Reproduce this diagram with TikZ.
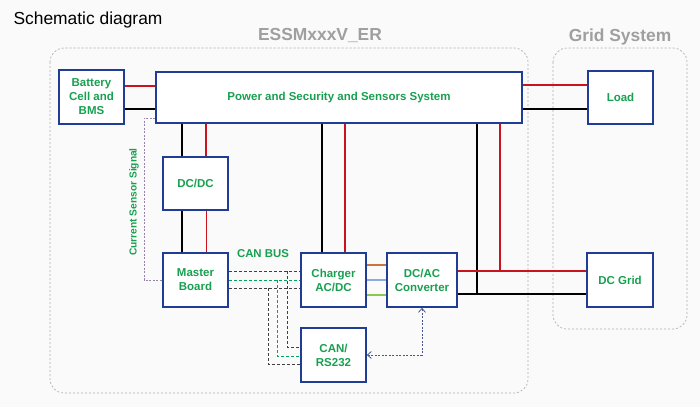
\documentclass[tikz,border=0pt]{standalone}
\usepackage{fontspec}
\setmainfont{Liberation Sans}
\usetikzlibrary{arrows.meta}

\definecolor{boxblue}{RGB}{31,60,150}
\definecolor{txtgreen}{RGB}{24,160,80}
\definecolor{pwrred}{RGB}{200,20,30}
\definecolor{linkor}{RGB}{205,115,60}
\definecolor{linkbl}{RGB}{140,170,220}
\definecolor{linkgr}{RGB}{140,200,80}
\definecolor{framegray}{RGB}{175,175,180}
\definecolor{sigpurple}{RGB}{150,130,170}

\tikzset{
  unit/.style={draw=boxblue, line width=1.6pt, fill=white, text=txtgreen,
    font=\fontsize{11.5}{14}\selectfont\bfseries, align=center, inner sep=0pt},
  redline/.style={draw=pwrred, line width=1.6pt},
  blackline/.style={draw=black, line width=1.6pt},
  bus/.style={draw=black!75, dash pattern=on 3pt off 2pt, line width=0.8pt},
  busgreen/.style={draw=teal!70!green, dash pattern=on 3pt off 2pt, line width=0.8pt},
  frame/.style={draw=framegray, dash pattern=on 2pt off 2pt, line width=0.7pt, rounded corners=14pt},
  heading/.style={text=gray!75, font=\fontsize{17.4}{20}\selectfont\bfseries}
}

\begin{document}
\begin{tikzpicture}[x=1pt, y=-1pt]
  \fill[gray!4] (0,0) rectangle (700,407);
  \useasboundingbox (0,0) rectangle (700,407);

  % frames and titles
  \draw[frame] (50,48) rectangle (528,393);
  \draw[frame] (553,48) rectangle (687,329);
  \node[anchor=west, font=\fontsize{17.4}{20}\selectfont] (title) at (10,20) {Schematic diagram};
  \node[heading] (essm) at (320,35) {ESSMxxxV\_ER};
  \node[heading] (gridsys) at (620,37) {Grid System};

  % units
  \node[unit, minimum width=65pt, minimum height=54pt] (bat) at (91.5,97) {Battery\\Cell and\\BMS};
  \node[unit, minimum width=366pt, minimum height=51pt] (pss) at (339,97.5) {Power and Security and Sensors System};
  \node[unit, minimum width=65pt, minimum height=53pt] (load) at (620.5,97.5) {Load};
  \node[unit, minimum width=65pt, minimum height=53pt] (dcdc) at (195.5,183.5) {DC/DC};
  \node[unit, minimum width=65pt, minimum height=54pt] (mb) at (195.5,280) {Master\\Board};
  \node[unit, minimum width=65pt, minimum height=54pt] (chg) at (333.5,280) {Charger\\AC/DC};
  \node[unit, minimum width=70pt, minimum height=54pt] (dcac) at (422,280) {DC/AC\\Converter};
  \node[unit, minimum width=66pt, minimum height=54pt] (grid) at (620,280) {DC Grid};
  \node[unit, minimum width=65pt, minimum height=54pt] (can) at (333.5,355) {CAN/\\RS232};

  % power lines
  \draw[redline] (bat.east |- 0,86) -- (pss.west |- 0,86);
  \draw[blackline] (bat.east |- 0,109) -- (pss.west |- 0,109);
  \draw[redline] (pss.east |- 0,85) -- (load.west |- 0,85);
  \draw[blackline] (pss.east |- 0,109) -- (load.west |- 0,109);
  \draw[blackline] (182,0 |- pss.south) -- (182,0 |- dcdc.north);
  \draw[redline] (206,0 |- pss.south) -- (206,0 |- dcdc.north);
  \draw[blackline] (182,0 |- dcdc.south) -- (182,0 |- mb.north);
  \draw[redline, line width=1pt] (206,0 |- dcdc.south) -- (206,0 |- mb.north);
  \draw[blackline] (322,0 |- pss.south) -- (322,0 |- chg.north);
  \draw[redline] (345,0 |- pss.south) -- (345,0 |- chg.north);
  \draw[redline] (500,0 |- pss.south) -- (500,271);
  \draw[blackline] (477,0 |- pss.south) -- (477,294);
  \draw[redline] (dcac.east |- 0,271) -- (grid.west |- 0,271);
  \draw[blackline] (dcac.east |- 0,294) -- (grid.west |- 0,294);

  % charger to converter
  \draw[linkor, line width=1.4pt] (chg.east |- 0,265) -- (dcac.west |- 0,265);
  \draw[linkbl, line width=1.4pt] (chg.east |- 0,280) -- (dcac.west |- 0,280);
  \draw[linkgr, line width=1.4pt] (chg.east |- 0,295) -- (dcac.west |- 0,295);

  % CAN bus
  \draw[bus] (mb.east |- 0,271) -- (chg.west |- 0,271);
  \draw[busgreen] (mb.east |- 0,280) -- (chg.west |- 0,280);
  \draw[bus] (mb.east |- 0,288) -- (chg.west |- 0,288);
  \draw[bus] (287,271) -- (287,347) -- (can.west |- 0,347);
  \draw[busgreen] (277,280) -- (277,356) -- (can.west |- 0,356);
  \draw[bus] (268,288) -- (268,364) -- (can.west |- 0,364);
  \node[text=txtgreen, font=\fontsize{11.4}{13}\selectfont\bfseries] (canbus) at (263,254) {CAN BUS};

  % RS232 link
  \draw[draw=boxblue!60!gray, dash pattern=on 2pt off 1.5pt, line width=0.8pt,
    {Straight Barb[length=4pt,width=7pt]}-{Straight Barb[length=4pt,width=7pt]}]
    (can.east |- 0,355) -- (422,355) -- (422,0 |- dcac.south);

  % current sensor
  \draw[draw=sigpurple, dash pattern=on 2pt off 1.5pt, line width=0.8pt]
    (pss.west |- 0,118) -- (144,118) -- (144,280) -- (mb.west);
  \node[rotate=90, text=txtgreen, font=\fontsize{10.2}{12}\selectfont\bfseries] (sensor) at (134,202) {Current Sensor Signal};
\end{tikzpicture}
\end{document}
